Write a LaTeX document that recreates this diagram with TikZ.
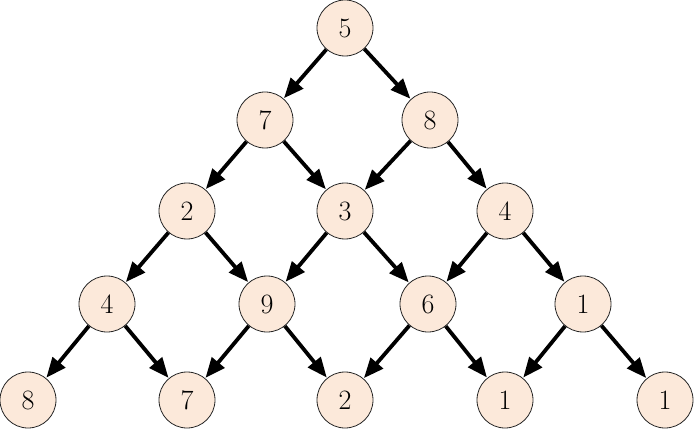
\documentclass[tikz,border=0pt]{standalone}
\usepackage{xcolor}
\usepackage{tikz}
\usetikzlibrary{arrows.meta}
\definecolor{peach}{HTML}{FCE9DA}
\tikzset{
    num/.style={circle, draw=black!85, line width=0.8pt, fill=peach, minimum size=56pt, inner sep=0pt, font=\fontsize{28}{30}\selectfont},
    arrow/.style={-{Triangle[length=20pt, width=16pt]}, line width=3.8pt, shorten >=0.5pt}
}
\begin{document}
\begin{tikzpicture}[x=1pt, y=-1pt]
\useasboundingbox (0,0) rectangle (695,430);

% row 0
\node[num] (a1) at (345,28) {5};
% row 1
\node[num] (b1) at (265,120) {7};
\node[num] (b2) at (430,120) {8};
% row 2
\node[num] (c1) at (187,211) {2};
\node[num] (c2) at (345,211) {3};
\node[num] (c3) at (505,211) {4};
% row 3
\node[num] (d1) at (107,304) {4};
\node[num] (d2) at (267,304) {9};
\node[num] (d3) at (428,304) {6};
\node[num] (d4) at (583,304) {1};
% row 4
\node[num] (e1) at (28,400) {8};
\node[num] (e2) at (187,400) {7};
\node[num] (e3) at (345,400) {2};
\node[num] (e4) at (505,400) {1};
\node[num] (e5) at (665,400) {1};

\draw[arrow] (a1) -- (b1);
\draw[arrow] (a1) -- (b2);
\draw[arrow] (b1) -- (c1);
\draw[arrow] (b1) -- (c2);
\draw[arrow] (b2) -- (c2);
\draw[arrow] (b2) -- (c3);
\draw[arrow] (c1) -- (d1);
\draw[arrow] (c1) -- (d2);
\draw[arrow] (c2) -- (d2);
\draw[arrow] (c2) -- (d3);
\draw[arrow] (c3) -- (d3);
\draw[arrow] (c3) -- (d4);
\draw[arrow] (d1) -- (e1);
\draw[arrow] (d1) -- (e2);
\draw[arrow] (d2) -- (e2);
\draw[arrow] (d2) -- (e3);
\draw[arrow] (d3) -- (e3);
\draw[arrow] (d3) -- (e4);
\draw[arrow] (d4) -- (e4);
\draw[arrow] (d4) -- (e5);

\end{tikzpicture}
\end{document}
